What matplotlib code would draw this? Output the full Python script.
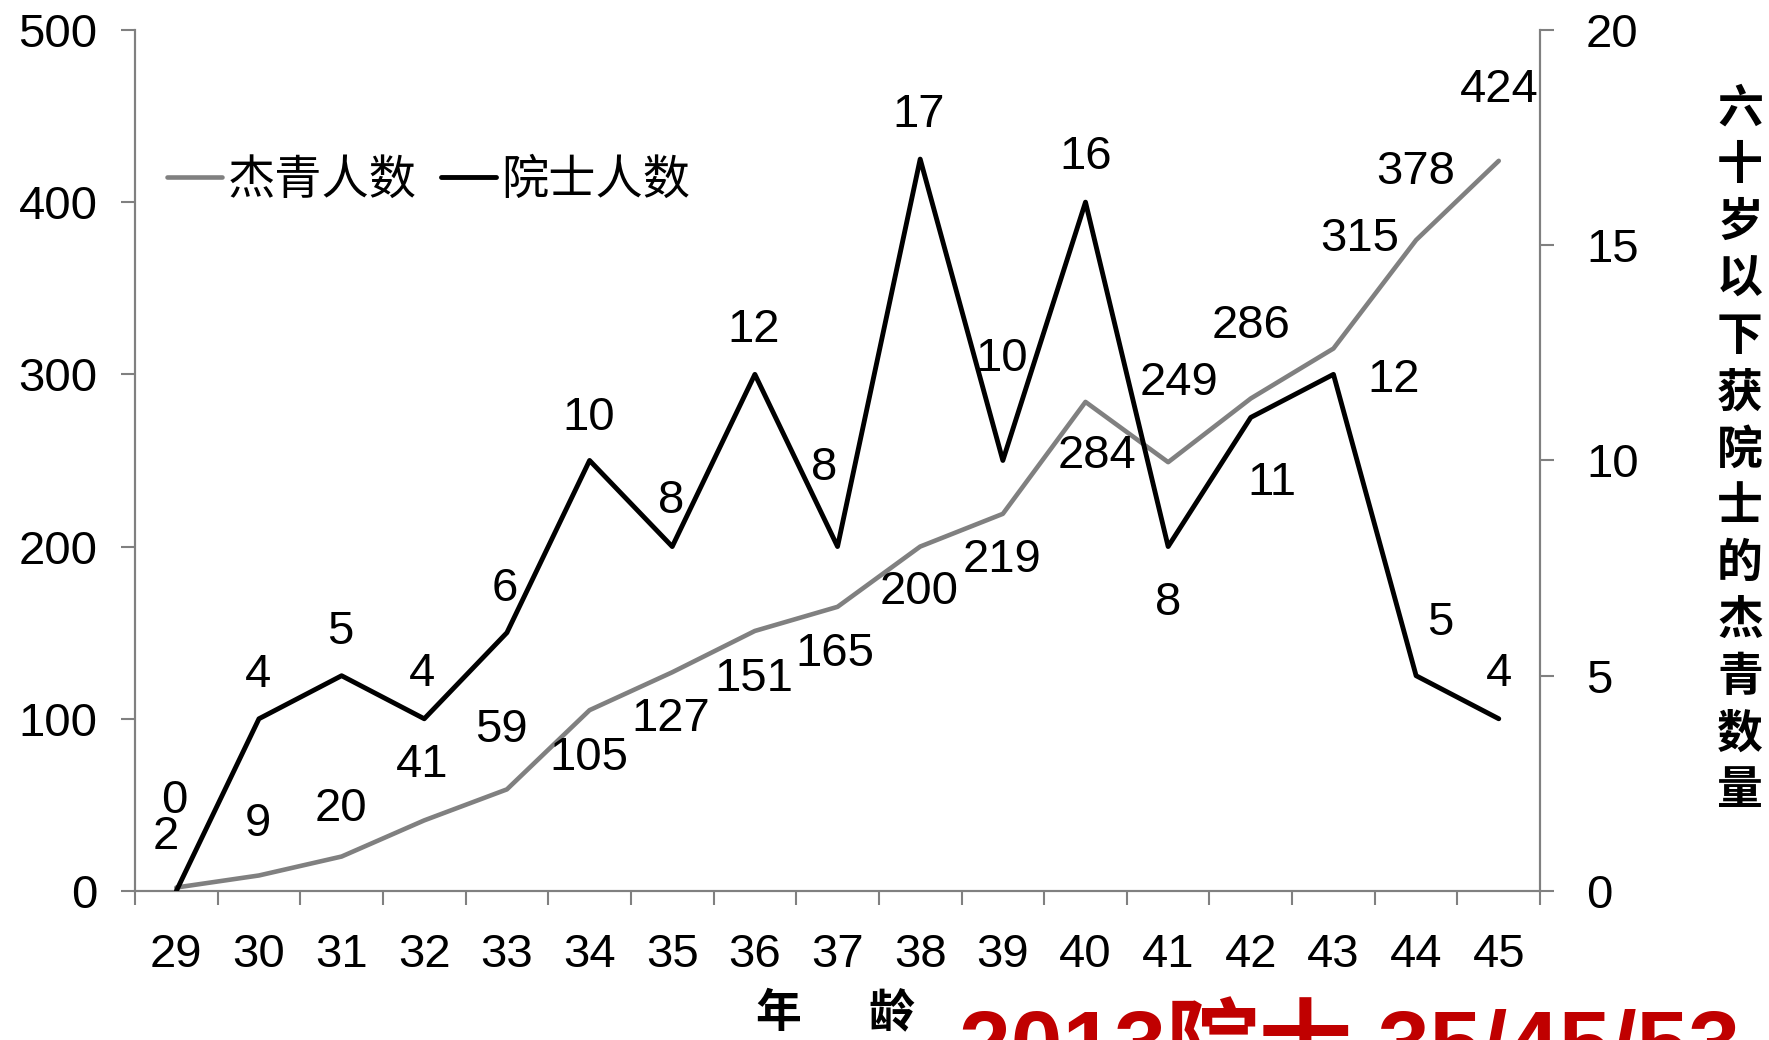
import matplotlib
matplotlib.use("Agg")
import matplotlib.pyplot as plt
import numpy as np

plt.rcParams['font.family'] = ['Liberation Sans', 'Noto Sans CJK SC', 'DejaVu Sans']

ages = ['29', '30', '31', '32', '33', '34', '35', '36', '37', '38', '39', '40', '41', '42', '43', '44', '45']
jieqing = [2, 9, 20, 41, 59, 105, 127, 151, 165, 200, 219, 284, 249, 286, 315, 378, 424]
yuanshi = [0, 4, 5, 4, 6, 10, 8, 12, 8, 17, 10, 16, 8, 11, 12, 5, 4]
left_ticks = [0, 100, 200, 300, 400, 500]
right_ticks = [0, 5, 10, 15, 20]

# label offsets in (shrunk-reference) pixels: dx, dy (down positive)
off_j = [(-9, -45), (-1, -46), (-1, -42), (-2, -49), (-5, -53), (-1, 42), (-1, 41), (-1, 43),
         (-2, 42), (-1, 40), (-1, 41), (10, 48), (10, -70), (0, -64), (23, -97), (0, -60), (0, -63)]
off_y = [(-2, -80), (-1, -39), (-1, -39), (-2, -40), (-2, -39), (-1, -38), (-1, -40), (-1, -39),
         (-12, -70), (-1, -39), (-1, -90), (0, -40), (0, 50), (19, 58), (53, 5), (21, -47), (0, -40)]
S = 1769 / 1568

fig = plt.figure(figsize=(17.69, 10.40), dpi=100)
ax = fig.add_axes([0.0763, 0.1433, 0.7943, 0.8279])
ax2 = ax.twinx()

x = np.arange(len(ages))
gray = '#808080'
lj, = ax.plot(x, jieqing, color=gray, lw=3.3, solid_capstyle='round', zorder=2)
ly, = ax2.plot(x, yuanshi, color='black', lw=3.5, solid_capstyle='round', zorder=3)

ax.set_xlim(-0.5, len(ages) - 0.5)
ax.set_ylim(0, 500)
ax2.set_ylim(0, 20)

fs = 34
for i, v in enumerate(jieqing):
    dx, dy = off_j[i]
    ax.annotate(str(v), (x[i], v), xytext=(dx * S, -dy * S), textcoords='offset pixels',
                ha='center', va='center', fontsize=fs, color='black')
for i, v in enumerate(yuanshi):
    dx, dy = off_y[i]
    ax2.annotate(str(v), (x[i], v), xytext=(dx * S, -dy * S), textcoords='offset pixels',
                 ha='center', va='center', fontsize=fs, color='black')

for a in (ax, ax2):
    a.spines['top'].set_visible(False)
    for s in ('left', 'right', 'bottom'):
        a.spines[s].set_color(gray)
        a.spines[s].set_linewidth(1.5)

ax.set_yticks(left_ticks)
ax.set_yticklabels([str(t) for t in left_ticks], fontsize=fs)
ax.tick_params(axis='y', direction='out', length=10, width=1.5, color=gray, pad=17)
ax2.set_yticks(right_ticks)
ax2.set_yticklabels([str(t) for t in right_ticks], fontsize=fs)
ax2.tick_params(axis='y', direction='out', length=10, width=1.5, color=gray, pad=23)

ax.set_xticks(np.arange(-0.5, len(ages), 1))
ax.set_xticklabels([''] * len(np.arange(-0.5, len(ages), 1)))
ax.set_xticks(x, minor=True)
ax.set_xticklabels(ages, minor=True, fontsize=fs)
ax.tick_params(axis='x', which='major', direction='out', length=10, width=1.5, color=gray)
ax.tick_params(axis='x', which='minor', length=0, pad=30)

leg = fig.legend([lj, ly], ['杰青人数', '院士人数'], ncol=2, frameon=False,
                 loc='center left', bbox_to_anchor=(0.0944, 0.8264),
                 borderaxespad=0, borderpad=0,
                 handlelength=1.17, handletextpad=0.12, columnspacing=0.5,
                 prop={'family': ['Noto Sans CJK SC'], 'size': fs})

fig.text(0.9836, 0.567, '\n'.join('六十岁以下获院士的杰青数量'), ha='center', va='center',
         fontsize=33, fontweight='bold', family=['Noto Sans CJK SC'], linespacing=1.30)

fig.text(0.440, 0.025, '年', ha='center', va='center', fontsize=33, fontweight='bold',
         family=['Noto Sans CJK SC'])
fig.text(0.504, 0.025, '龄', ha='center', va='center', fontsize=33, fontweight='bold',
         family=['Noto Sans CJK SC'])

fig.text(0.542, 0.031, '2013院士 35/45/53', ha='left', va='top', fontsize=67,
         fontweight='bold', color='#C00000', family=['Liberation Sans', 'Noto Sans CJK SC'])

fig.savefig('out.png', dpi=100)
